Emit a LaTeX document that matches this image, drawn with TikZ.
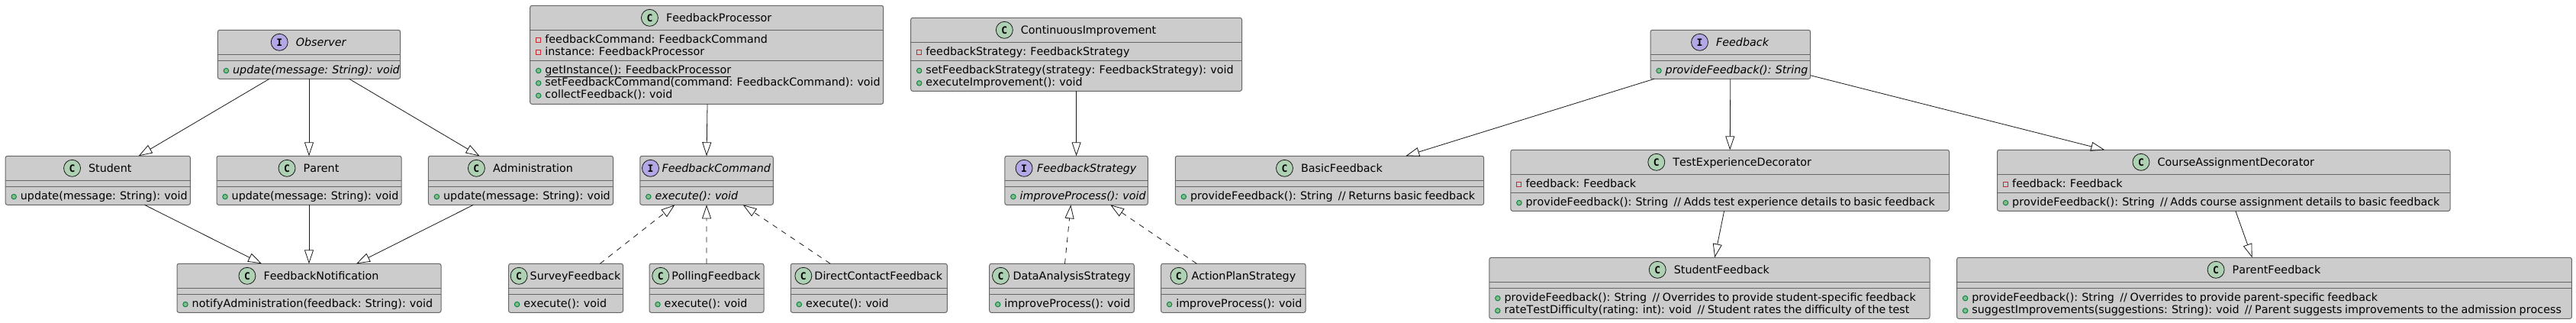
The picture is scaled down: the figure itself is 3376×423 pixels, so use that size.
\documentclass[tikz,border=0pt]{standalone}
\usepackage{fontspec}
\setmainfont{DejaVu Sans}[Kerning=Off,WordSpace=0.8]
\newfontfamily\spotfont{DejaVu Sans Mono}
\usetikzlibrary{arrows.meta,positioning,fit,calc}

\definecolor{boxfill}{HTML}{CCCCCC}
\definecolor{boxline}{HTML}{666666}
\definecolor{arrowline}{HTML}{181818}
\definecolor{classspot}{HTML}{ADD1B2}
\definecolor{ifacespot}{HTML}{B4A7E5}

\tikzset{
    classbox/.style={draw=boxline, fill=boxfill, line width=1pt, rounded corners=2.5pt, inner sep=0pt, outer sep=0pt},
    classrule/.style={draw=boxline, line width=1pt},
    titletext/.style={anchor=base, inner sep=0pt, font=\fontsize{14.3}{16}\selectfont, text=black},
    membertext/.style={anchor=base west, inner sep=0pt, font=\fontsize{14.3}{16}\selectfont, text=black},
    spotC/.style={draw=arrowline, fill=classspot, circle, line width=0.8pt, minimum size=22pt, inner sep=0pt, anchor=east},
    spotI/.style={draw=arrowline, fill=ifacespot, circle, line width=0.8pt, minimum size=22pt, inner sep=0pt, anchor=east},
    pubmark/.style={draw={rgb,255:red,3;green,128;blue,72}, fill={rgb,255:red,132;green,190;blue,132}, circle, line width=0.9pt, minimum size=6.5pt, inner sep=0pt},
    privmark/.style={draw={rgb,255:red,200;green,41;blue,48}, rectangle, line width=0.9pt, minimum size=6pt, inner sep=0pt},
    extends/.style={draw=arrowline, line width=0.8pt, -{Triangle[open, length=18pt, width=12pt]}},
    realizes/.style={extends, dash pattern=on 7pt off 7pt}
}

% [gap] name, left, top, right, bottom, spot letter, title, second rule
\newcommand{\classnode}[9][10]{
    \node[classbox, fit={(#3,#4) (#5,#6)}] (#2) {};
    \draw[classrule] (#2.west |- 0,{#4+32}) -- (#2.east |- 0,{#4+32});
    \draw[classrule] (#2.west |- 0,#9) -- (#2.east |- 0,#9);
    \coordinate (#2 mid) at ($(#2.north)+(0,16)$);
    \node[titletext] (#2 title) at ($(#2.north)+({#1/2+11},20.7)$) {#8};
    \node[spot#7] (#2 spot) at ([xshift=-#1pt]#2 title.west |- #2 mid) {\spotfont\fontsize{13}{13}\selectfont\bfseries #7};
}
% name, number, baseline, pub or priv, text
\newcommand{\member}[5]{
    \node[#4mark] (#1 mark#2) at ([xshift=11pt]#1.west |- 0,{#3-3.7}) {};
    \node[membertext] (#1 text#2) at ([xshift=19.5pt]#1.west |- 0,#3) {#5};
}

\begin{document}
\begin{tikzpicture}[x=1pt, y=-1pt]
    \useasboundingbox (0,0) rectangle (3376,423);

    % observer group
    \classnode{observer}{285.4}{39.3}{524.6}{103.3}{I}{\textit{Observer}}{79.3}
    \member{observer}{1}{96.3}{pub}{\textit{update(message: String): void}}
    \classnode{student}{7.2}{204.3}{249.4}{268.3}{C}{Student}{244.3}
    \member{student}{1}{261.3}{pub}{update(message: String): void}
    \classnode{parent}{284}{204.3}{526}{268.3}{C}{Parent}{244.3}
    \member{parent}{1}{261.3}{pub}{update(message: String): void}
    \classnode{administration}{561.4}{204.3}{803.5}{268.3}{C}{Administration}{244.3}
    \member{administration}{1}{261.3}{pub}{update(message: String): void}
    \classnode{notification}{232}{345.3}{578}{409.3}{C}{FeedbackNotification}{385.3}
    \member{notification}{1}{402.3}{pub}{notifyAdministration(feedback: String): void}

    % command group
    \classnode{processor}{694.7}{7.3}{1157.7}{136.3}{C}{FeedbackProcessor}{79.3}
    \member{processor}{1}{56.3}{priv}{feedbackCommand: FeedbackCommand}
    \member{processor}{2}{72.6}{priv}{instance: FeedbackProcessor}
    \member{processor}{3}{96.3}{pub}{\underline{getInstance(): FeedbackProcessor}}
    \member{processor}{4}{112.6}{pub}{setFeedbackCommand(command: FeedbackCommand): void}
    \member{processor}{5}{128.9}{pub}{collectFeedback(): void}
    \classnode[3.5]{command}{838.8}{204.3}{1013.3}{268.3}{I}{\textit{FeedbackCommand}}{244.3}
    \member{command}{1}{261.3}{pub}{\textit{execute(): void}}
    \classnode[3]{survey}{666.6}{345.3}{816.5}{409.3}{C}{SurveyFeedback}{385.3}
    \member{survey}{1}{402.3}{pub}{execute(): void}
    \classnode[3]{polling}{851}{345.3}{1001}{409.3}{C}{PollingFeedback}{385.3}
    \member{polling}{1}{402.3}{pub}{execute(): void}
    \classnode[3]{directcontact}{1036.3}{345.3}{1241.3}{409.3}{C}{DirectContactFeedback}{385.3}
    \member{directcontact}{1}{402.3}{pub}{execute(): void}

    % strategy group
    \classnode{improvement}{1193.7}{23.3}{1627.5}{119.3}{C}{ContinuousImprovement}{79.3}
    \member{improvement}{1}{72.3}{priv}{feedbackStrategy: FeedbackStrategy}
    \member{improvement}{2}{96.3}{pub}{setFeedbackStrategy(strategy: FeedbackStrategy): void}
    \member{improvement}{3}{112.6}{pub}{executeImprovement(): void}
    \classnode[5.5]{strategy}{1316.9}{204.3}{1504.3}{268.3}{I}{\textit{FeedbackStrategy}}{244.3}
    \member{strategy}{1}{261.3}{pub}{\textit{improveProcess(): void}}
    \classnode[4.5]{analysis}{1296.7}{345.3}{1486.3}{409.3}{C}{DataAnalysisStrategy}{385.3}
    \member{analysis}{1}{402.3}{pub}{improveProcess(): void}
    \classnode[5]{actionplan}{1521.6}{345.3}{1711.1}{409.3}{C}{ActionPlanStrategy}{385.3}
    \member{actionplan}{1}{402.3}{pub}{improveProcess(): void}

    % feedback group
    \classnode{feedback}{2163}{39.3}{2372.6}{103.3}{I}{\textit{Feedback}}{79.3}
    \member{feedback}{1}{96.3}{pub}{\textit{provideFeedback(): String}}
    \classnode{basic}{1540.3}{204.3}{1944.6}{268.3}{C}{BasicFeedback}{244.3}
    \member{basic}{1}{261.3}{pub}{provideFeedback(): String\ \ // Returns basic feedback}
    \classnode{testdecorator}{1979.9}{196.3}{2554.5}{276.3}{C}{TestExperienceDecorator}{252.3}
    \member{testdecorator}{1}{245.3}{priv}{feedback: Feedback}
    \member{testdecorator}{2}{269.3}{pub}{provideFeedback(): String\ \ // Adds test experience details to basic feedback}
    \classnode{coursedecorator}{2617.5}{196.3}{3211}{276.3}{C}{CourseAssignmentDecorator}{252.3}
    \member{coursedecorator}{1}{245.3}{priv}{feedback: Feedback}
    \member{coursedecorator}{2}{269.3}{pub}{provideFeedback(): String\ \ // Adds course assignment details to basic feedback}
    \classnode{studentfeedback}{1951.8}{337.3}{2529}{417.3}{C}{StudentFeedback}{377.3}
    \member{studentfeedback}{1}{394.3}{pub}{provideFeedback(): String\ \ // Overrides to provide student-specific feedback}
    \member{studentfeedback}{2}{410.6}{pub}{rateTestDifficulty(rating: int): void\ \ // Student rates the difficulty of the test}
    \classnode{parentfeedback}{2564.6}{337.3}{3370.4}{417.3}{C}{ParentFeedback}{377.3}
    \member{parentfeedback}{1}{394.3}{pub}{provideFeedback(): String\ \ // Overrides to provide parent-specific feedback}
    \member{parentfeedback}{2}{410.6}{pub}{suggestImprovements(suggestions: String): void\ \ // Parent suggests improvements to the admission process}

    % connectors
    \draw[extends] ([xshift=-52pt]observer.south) -- ([xshift=53.3pt]student.north);
    \draw[extends] (observer.south) -- (parent.north);
    \draw[extends] ([xshift=52.6pt]observer.south) -- ([xshift=-54pt]administration.north);
    \draw[extends] ([xshift=61.2pt]student.south) -- ([xshift=-62pt]notification.north);
    \draw[extends] (parent.south) -- (notification.north);
    \draw[extends] ([xshift=-62pt]administration.south) -- ([xshift=62pt]notification.north);

    \draw[extends] ([xshift=0.8pt]processor.south) -- (command.north);
    \draw[realizes] ([xshift=44.8pt]survey.north) -- ([xshift=-41.7pt]command.south);
    \draw[realizes] (polling.north) -- (command.south);
    \draw[realizes] ([xshift=-50.6pt]directcontact.north) -- ([xshift=47.6pt]command.south);

    \draw[extends] (improvement.south) -- (strategy.north);
    \draw[realizes] ([xshift=4pt]analysis.north) -- ([xshift=-7.2pt]strategy.south);
    \draw[realizes] ([xshift=-48pt]actionplan.north) -- ([xshift=44.7pt]strategy.south);

    \draw[extends] ([xshift=-99.8pt]feedback.south) -- ([xshift=99.8pt]basic.north);
    \draw[extends] (feedback.south) -- (testdecorator.north);
    \draw[extends] ([yshift=-27.4pt]feedback.east) -- ([xshift=-156pt]coursedecorator.north);
    \draw[extends] ([xshift=-7.6pt]testdecorator.south) -- ([xshift=6.8pt]studentfeedback.north);
    \draw[extends] ([xshift=15.6pt]coursedecorator.south) -- ([xshift=-15.9pt]parentfeedback.north);
\end{tikzpicture}
\end{document}
